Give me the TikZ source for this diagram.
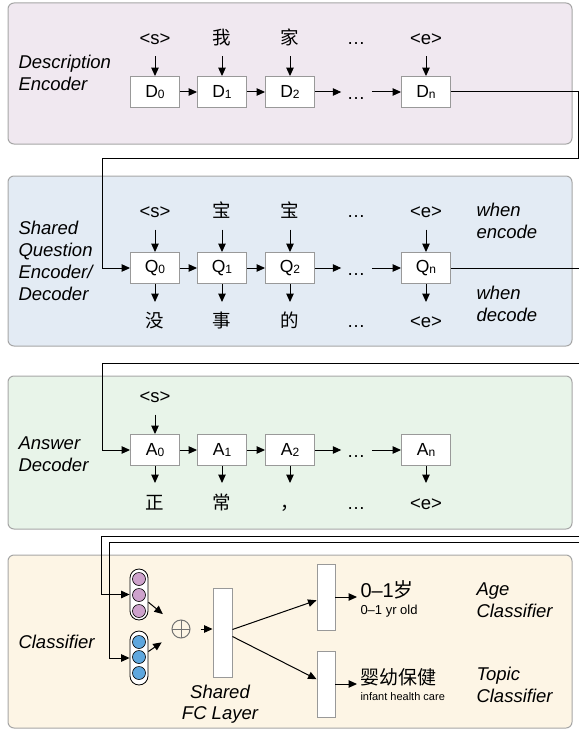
\documentclass[tikz,border=0pt]{standalone}
\usepackage{fontspec}
\setmainfont{Liberation Sans}
\newfontfamily\cjk{Noto Sans CJK SC}
\usetikzlibrary{arrows.meta}
\definecolor{encbg}{HTML}{F0E8F0}
\definecolor{qbg}{HTML}{E3EBF4}
\definecolor{ansbg}{HTML}{E8F4E9}
\definecolor{clsbg}{HTML}{FDF5E5}
\definecolor{purp}{HTML}{CDA2CC}
\definecolor{blu}{HTML}{5EA7DE}
\newcommand{\sz}[1]{\fontsize{#1}{#1}\selectfont}
\newcommand{\lo}[1]{\raisebox{-1pt}{\sz{12}#1}}

\begin{document}
\begin{tikzpicture}[x=1pt,y=-1pt,line width=1pt,
  arr/.style={-{Triangle[length=8.5pt,width=7.5pt]}},
  panel/.style={draw=black!35,fill=#1,rounded corners=6pt,line width=1pt},
  cell/.style={draw=black!40,fill=white,line width=0.9pt,minimum width=49pt,minimum height=31pt,inner sep=0pt,font=\sz{17.5}},
  bar/.style={draw=black!40,fill=white,line width=0.9pt,inner sep=0pt,minimum width=#1},
  tok/.style={inner sep=0pt,text height=13pt,text depth=4pt,font=\sz{18.5}},
  lbl/.style={inner sep=0pt,anchor=west,align=left,font=\fontsize{18.5}{22}\selectfont\itshape}]

\useasboundingbox (0,0) rectangle (579,733);

\draw[panel=encbg] (8,3) rectangle (572,144);
\draw[panel=qbg] (8,176) rectangle (572,346);
\draw[panel=ansbg] (8,376) rectangle (572,529);
\draw[panel=clsbg] (8,555) rectangle (572,728);

% description encoder
\node[lbl] (dlbl) at (18,72.5) {Description\\Encoder};
\foreach \n/\x/\w in {0/155/<s>, 1/222/{\cjk 我}, 2/290/{\cjk 家}, n/426/<e>}{
  \node[cell] (D\n) at (\x,92) {D\lo{\n}};
  \node[tok] (d\n) at (\x,40) {\w};
  \draw[arr,shorten <=7.5pt] (d\n) -- (D\n);
}
\node[tok] (ddots) at (356,40) {…};
\node[tok] (Ddots) at (356,95) {…};
\draw[arr] (D0) -- (D1);
\draw[arr] (D1) -- (D2);
\draw[arr,shorten >=5pt] (D2) -- (D2 -| Ddots.west);
\draw[arr,shorten <=6pt] (Ddots.east |- Dn) -- (Dn);

% shared question encoder / decoder
\node[lbl] (qlbl) at (18,261) {Shared\\Question\\Encoder/\\Decoder};
\foreach \n/\x/\w/\o in {0/155/<s>/{\cjk 没}, 1/222/{\cjk 宝}/{\cjk 事}, 2/290/{\cjk 宝}/{\cjk 的}, n/426/<e>/<e>}{
  \node[cell] (Q\n) at (\x,268) {Q\lo{\n}};
  \node[tok] (qi\n) at (\x,213) {\w};
  \node[tok] (qo\n) at (\x,323) {\o};
  \draw[arr,shorten <=7.5pt] (qi\n) -- (Q\n);
  \draw[arr,shorten >=12pt] (Q\n) -- (qo\n);
}
\node[tok] (qidots) at (356,213) {…};
\node[tok] (qodots) at (356,323) {…};
\node[tok] (Qdots) at (356,271) {…};
\draw[arr] (Q0) -- (Q1);
\draw[arr] (Q1) -- (Q2);
\draw[arr,shorten >=5pt] (Q2) -- (Q2 -| Qdots.west);
\draw[arr,shorten <=6pt] (Qdots.east |- Qn) -- (Qn);
\node[lbl] (enc) at (476,221) {when\\encode};
\node[lbl] (dec) at (476,304) {when\\decode};

% answer decoder
\node[lbl] (albl) at (18,454) {Answer\\Decoder};
\node[tok] (ai0) at (155,398) {<s>};
\foreach \n/\x/\o in {0/155/{\cjk 正}, 1/222/{\cjk 常}, 2/290/{\cjk ，}, n/426/<e>}{
  \node[cell] (A\n) at (\x,450) {A\lo{\n}};
  \node[tok] (ao\n) at (\x,505) {\o};
  \draw[arr,shorten >=13pt] (A\n) -- (ao\n);
}
\draw[arr,shorten <=7.5pt] (ai0) -- (A0);
\node[tok] (aodots) at (356,505) {…};
\node[tok] (Adots) at (356,453) {…};
\draw[arr] (A0) -- (A1);
\draw[arr] (A1) -- (A2);
\draw[arr,shorten >=5pt] (A2) -- (A2 -| Adots.west);
\draw[arr,shorten <=6pt] (Adots.east |- An) -- (An);

% classifier
\node[lbl] (clbl) at (18,642) {Classifier};
\node[draw,fill=white,rounded corners=9pt,minimum width=18pt,minimum height=51pt,inner sep=0pt,line width=0.8pt] (pcap) at (139,594.5) {};
\foreach [count=\i] \y in {579,595,611}
  \node[circle,draw,fill=purp,minimum size=13pt,inner sep=0pt,line width=0.6pt] (p\i) at (139,\y) {};
\node[draw,fill=white,rounded corners=9pt,minimum width=18pt,minimum height=54pt,inner sep=0pt,line width=0.8pt] (bcap) at (139,658) {};
\foreach [count=\i] \y in {642,657,673}
  \node[circle,draw,fill=blu,minimum size=13pt,inner sep=0pt,line width=0.6pt] (b\i) at (139,\y) {};
\node[circle,draw=black!55,minimum size=18pt,inner sep=0pt,line width=1pt,
  path picture={\draw[black!55,line width=1pt] (path picture bounding box.north) -- (path picture bounding box.south)
  (path picture bounding box.west) -- (path picture bounding box.east);}] (oplus) at (181,629) {};
\node[bar=19pt,minimum height=89pt] (fc) at (222.5,632.5) {};
\node[bar=18pt,minimum height=66pt] (age) at (326,597) {};
\node[bar=18pt,minimum height=66pt] (topic) at (326,684) {};
\node[align=center,inner sep=0pt,font=\fontsize{18.5}{21}\selectfont\itshape] (fclbl) at (220,704.5) {Shared\\FC Layer};

\node[anchor=west,inner sep=0pt,font=\sz{20}] (agecls) at (360,590) {0–1{\cjk 岁}};
\node[anchor=west,inner sep=0pt,font=\sz{13}] (ageen) at (360,611) {0–1 yr old};
\node[anchor=west,inner sep=0pt,font=\sz{19}\cjk] (topcls) at (360,677) {婴幼保健};
\node[anchor=west,inner sep=0pt,font=\sz{11}] (topen) at (360,697) {infant health care};
\node[lbl] (agename) at (476,600) {Age\\Classifier};
\node[lbl] (topname) at (476,685) {Topic\\Classifier};

\draw[arr,shorten >=14pt] (pcap) -- (oplus);
\draw[arr,shorten >=14pt] (bcap) -- (oplus);
\draw[arr,shorten <=10pt] (oplus) -- (oplus -| fc.west);
\draw[arr] ([yshift=3pt]fc.east) -- (age);
\draw[arr] ([yshift=-4pt]fc.east) -- (topic);
\draw[arr,shorten >=3pt] (age) -- (age -| agecls.west);
\draw[arr,shorten >=3pt] (topic) -- (topic -| topcls.west);

% wires between panels
\coordinate (w1) at (578,158);
\coordinate (w2) at (102,158);
\draw[arr] (Dn) -| (w1) -- (w2) |- (Q0);
\coordinate (qout) at (579,268);
\draw (Qn) -- (qout);
\coordinate (ain) at (579,363);
\coordinate (abend) at (102,363);
\draw[arr] (ain) -- (abend) |- (A0);
\coordinate (cin1) at (579,536);
\coordinate (cb1) at (101,536);
\coordinate (cin2) at (579,542);
\coordinate (cb2) at (109,542);
\draw[arr] (cin1) -- (cb1) |- (pcap);
\draw[arr] (cin2) -- (cb2) |- (bcap);

\end{tikzpicture}
\end{document}
